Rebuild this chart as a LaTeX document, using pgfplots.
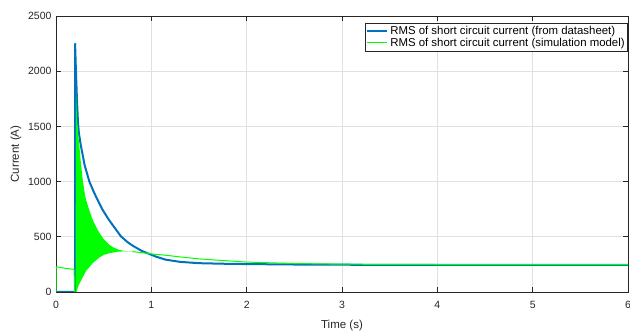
\documentclass[border=0pt]{standalone}
\usepackage{fontspec}
\setmainfont{Liberation Sans}
\usepackage{pgfplots}
\pgfplotsset{compat=1.18}
\definecolor{mblue}{HTML}{0072BD}
\definecolor{mgreen}{HTML}{00FF00}
\definecolor{axgray}{HTML}{262626}
\begin{document}
\begin{tikzpicture}
\begin{axis}[
  scale only axis, width=572pt, height=276pt,
  xmin=0, xmax=6, ymin=0, ymax=2500,
  xtick={0,1,2,3,4,5,6}, ytick={0,500,1000,1500,2000,2500},
  scaled y ticks=false,
  grid=major, major grid style={color=black!12, line width=0.6pt},
  tick align=inside, xtick pos=both, ytick pos=both,
  major tick length=5pt,
  axis line style={axgray, line width=0.6pt},
  tick style={axgray, line width=0.6pt},
  ticklabel style={font=\fontsize{10.5}{12}\selectfont, color=axgray},
  xticklabel style={yshift=-6pt},
  yticklabel style={xshift=-1pt},
  /pgf/number format/assume math mode=true,
  /pgf/number format/1000 sep={},
  unbounded coords=jump,
  xlabel={Time (s)}, ylabel={Current (A)},
  label style={font=\fontsize{11.5}{13}\selectfont, color=axgray},
  xlabel style={yshift=-4pt},
  legend style={at={(rel axis cs:1,1)}, anchor=north east, xshift=0pt, yshift=-7pt,
    draw=axgray, line width=0.6pt, font=\fontsize{11.4}{13}\selectfont,
    inner xsep=1pt, inner ysep=1pt, row sep=-2pt, cells={anchor=west}},
  legend image code/.code={\draw[#1] (0pt,0pt) -- (20pt,0pt);},
]
\coordinate (ll) at (rel axis cs:0,0);
\coordinate (ur) at (rel axis cs:1,1);
% datasheet RMS
\addplot[mblue, line width=2pt] coordinates {
(0,0) (0.2,0) (0.2,2253) (0.21,1980) (0.22,1740) (0.23,1545) (0.24,1440)
(0.26,1330) (0.3,1150) (0.35,1000) (0.4,900) (0.437,833) (0.49,743)
(0.55,660) (0.6,600) (0.68,505) (0.75,452) (0.8,422) (0.9,372) (0.96,351)
(1.05,320) (1.15,293) (1.3,273) (1.5,261) (1.75,256) (2,253) (2.5,249)
(3,247) (4,245) (5,245) (6,245)
};
\addlegendentry{RMS of short circuit current (from datasheet)}
% simulation oscillation band (upper envelope, then lower envelope back)
\addplot[fill=mgreen, draw=none, forget plot] coordinates {
(0.205,0) (0.21,1845) (0.215,1700) (0.22,1570) (0.228,1473) (0.245,1321)
(0.26,1180) (0.28,1018) (0.3,900) (0.315,836) (0.35,740) (0.385,654)
(0.42,590) (0.455,536) (0.5,480) (0.56,427) (0.6,405) (0.66,382)
(0.72,372) (0.8,366)
(0.72,368) (0.66,366) (0.56,352) (0.5,335) (0.455,312) (0.385,262)
(0.315,190) (0.26,100) (0.23,45) (0.215,0)
};
% simulation RMS
\addplot[mgreen, line width=1pt] coordinates {
(0,0) (0.001,229) (0.05,222) (0.1,214) (0.19,205) (0.195,0) (0.205,0)
(0.5,nan)
(0.8,366) (0.96,350) (1.0,345) (1.15,333) (1.3,318) (1.5,300) (1.75,285)
(2,271) (2.5,258) (3,252) (4,249) (5,248) (6,248)
};
\addlegendentry{RMS of short circuit current (simulation model)}
\end{axis}
\pgfresetboundingbox
\path ([shift={(-56pt,-39pt)}]ll) rectangle ([shift={(2pt,16pt)}]ur);
\end{tikzpicture}
\end{document}
